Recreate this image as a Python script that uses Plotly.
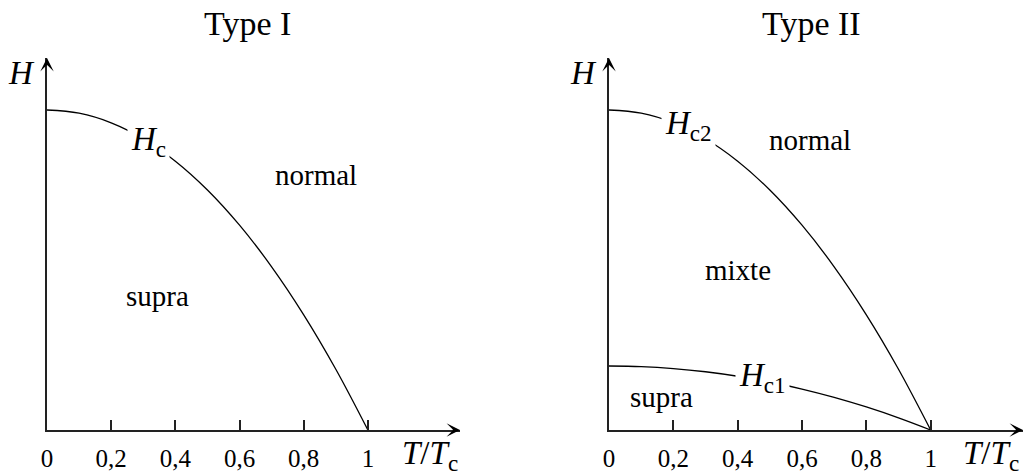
import plotly.graph_objects as go

# ---- data ----
t_vals = [0, 0.1, 0.2, 0.3, 0.4, 0.5, 0.6, 0.7, 0.8, 0.9, 1.0]
hc_vals = [1.0, 0.99, 0.96, 0.91, 0.84, 0.75, 0.64, 0.51, 0.36, 0.19, 0.0]
hc2_vals = [1.0, 0.99, 0.96, 0.91, 0.84, 0.75, 0.64, 0.51, 0.36, 0.19, 0.0]
hc1_vals = [0.2, 0.198, 0.192, 0.182, 0.168, 0.15, 0.128, 0.102, 0.072, 0.038, 0.0]
tick_vals = [0, 0.2, 0.4, 0.6, 0.8, 1.0]
tick_text = ["0", "0,2", "0,4", "0,6", "0,8", "1"]
titles = ["Type I", "Type II"]

W, H = 1023, 475
FONT = "Liberation Serif"
X_MAX = 1.287
Y_MAX = 1.1625

fig = go.Figure()
line_style = dict(color="black", width=1.3, shape="spline")
fig.add_trace(go.Scatter(x=t_vals, y=hc_vals, mode="lines", line=line_style,
                         xaxis="x", yaxis="y", showlegend=False, hoverinfo="skip"))
fig.add_trace(go.Scatter(x=t_vals, y=hc2_vals, mode="lines", line=line_style,
                         xaxis="x2", yaxis="y2", showlegend=False, hoverinfo="skip"))
fig.add_trace(go.Scatter(x=t_vals, y=hc1_vals, mode="lines", line=line_style,
                         xaxis="x2", yaxis="y2", showlegend=False, hoverinfo="skip"))

ydom = [(H - 430) / H, (H - 58) / H]
xcommon = dict(range=[0, X_MAX], showgrid=False, zeroline=False, showline=True,
               linecolor="#222", linewidth=1.8, ticks="inside", ticklen=10,
               tickwidth=1.5, tickcolor="#222", tickvals=tick_vals, ticktext=tick_text,
               tickfont=dict(family=FONT, size=25, color="black"),
               ticklabelstandoff=5, fixedrange=True, automargin=False)
ycommon = dict(range=[0, Y_MAX], showgrid=False, zeroline=False, showline=True,
               linecolor="#222", linewidth=1.8, showticklabels=False, ticks="",
               fixedrange=True, domain=ydom, automargin=False)

fig.update_layout(
    width=W, height=H, margin=dict(l=0, r=0, t=0, b=0),
    plot_bgcolor="white", paper_bgcolor="white",
    xaxis=dict(domain=[47 / W, 460 / W], anchor="y", **xcommon),
    yaxis=dict(anchor="x", **ycommon),
    xaxis2=dict(domain=[609 / W, 1023 / W], anchor="y2", **xcommon),
    yaxis2=dict(anchor="x2", **ycommon),
)

ann = []
for xr, yr in [("x", "y"), ("x2", "y2")]:
    # axis arrows
    ann.append(dict(x=X_MAX, y=0, ax=X_MAX - 0.02, ay=0, xref=xr, yref=yr,
                    axref=xr, ayref=yr, showarrow=True, arrowhead=3,
                    arrowsize=1.5, arrowwidth=1.5, arrowcolor="black", text=""))
    ann.append(dict(x=0, y=Y_MAX, ax=0, ay=Y_MAX - 0.02, xref=xr, yref=yr,
                    axref=xr, ayref=yr, showarrow=True, arrowhead=3,
                    arrowsize=1.5, arrowwidth=1.5, arrowcolor="black", text=""))

def paper_text(px, py, text, size):
    return dict(x=px / W, y=1 - py / H, xref="paper", yref="paper", text=text,
                showarrow=False, xanchor="center", yanchor="middle",
                font=dict(family=FONT, size=size, color="black"))

# axis names
ann.append(paper_text(21, 73, "<i>H</i>", 33))
ann.append(paper_text(583, 73, "<i>H</i>", 33))
ann.append(paper_text(430, 455, "<i>T</i>/<i>T</i><sub>c</sub>", 33))
ann.append(paper_text(991, 455, "<i>T</i>/<i>T</i><sub>c</sub>", 33))

def label(x, y, xr, yr, text, size=29, bg=None, pad=1):
    d = dict(x=x, y=y, xref=xr, yref=yr, text=text, showarrow=False,
             xanchor="center", yanchor="middle",
             font=dict(family=FONT, size=size, color="black"))
    if bg:
        d.update(bgcolor=bg, borderpad=pad)
    return d

ann.append(label(0.315, 0.902, "x", "y", "<i>H</i><sub>c</sub>", 33, "white", 3))
ann.append(label(0.838, 0.797, "x", "y", "normal"))
ann.append(label(0.343, 0.419, "x", "y", "supra"))
ann.append(label(0.246, 0.952, "x2", "y2", "<i>H</i><sub>c2</sub>", 33, "white", 3))
ann.append(label(0.626, 0.906, "x2", "y2", "normal"))
ann.append(label(0.402, 0.5, "x2", "y2", "mixte"))
ann.append(label(0.162, 0.103, "x2", "y2", "supra"))
ann.append(label(0.477, 0.164, "x2", "y2", "<i>H</i><sub>c1</sub>", 33, "white", 3))

# panel titles
ann.append(paper_text(247, 24, titles[0], 34))
ann.append(paper_text(811, 24, titles[1], 34))

fig.update_layout(annotations=ann)
fig.write_html("out.html", config={"displayModeBar": False},
               post_script="document.body.style.margin='0';document.body.style.padding='0';")
